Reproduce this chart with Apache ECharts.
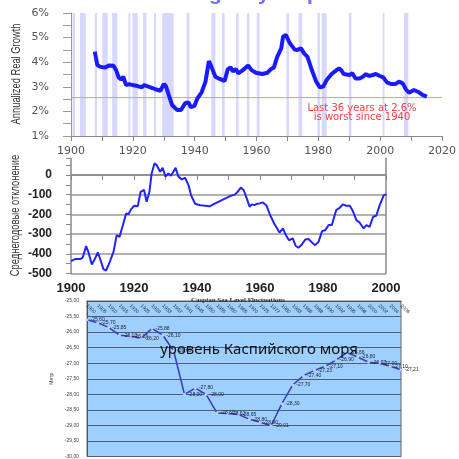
<!DOCTYPE html>
<html>
<head>
<meta charset="utf-8">
<script src="https://cdn.jsdelivr.net/npm/echarts@6/dist/echarts.min.js"></script>
<style>
html, body { margin: 0; padding: 0; background: #fff; }
#chart { width: 459px; height: 459px; }
</style>
</head>
<body>
<div id="chart"></div>
<script>
// --- верхний график: GDP, rolling 36 year
const gdpYears = [1907.7, 1908.5, 1909.3, 1910.9, 1912.4, 1913.7, 1914.6, 1915.4, 1916.2, 1916.9,
  1917.8, 1918.8, 1919.9, 1921.5, 1922.9, 1923.7, 1925.7, 1927.3, 1928.9, 1930.0,
  1930.7, 1931.6, 1932.7, 1934.3, 1935.6, 1936.9, 1938.0, 1938.8, 1939.9, 1940.9,
  1942.2, 1943.5, 1944.6, 1945.4, 1946.7, 1948.1, 1949.7, 1950.7, 1951.6, 1952.4,
  1953.3, 1954.1, 1955.9, 1957.3, 1958.4, 1959.8, 1961.9, 1963.5, 1964.6, 1965.6,
  1966.7, 1968.0, 1968.6, 1969.5, 1970.7, 1972.3, 1973.3, 1974.4, 1975.4, 1976.5,
  1977.9, 1979.3, 1980.5, 1981.6, 1982.7, 1984.3, 1985.9, 1986.7, 1987.4, 1988.2,
  1990.1, 1991.0, 1992.0, 1993.3, 1994.4, 1995.4, 1996.3, 1997.6, 1998.6, 1999.9,
  2001.0, 2002.3, 2003.7, 2004.9, 2006.1, 2007.3, 2008.3, 2009.3, 2010.9, 2012.2,
  2013.7, 2015.1]
const gdpValues = [4.43, 3.89, 3.82, 3.78, 3.87, 3.86, 3.68, 3.38, 3.30, 3.41,
  3.07, 3.11, 3.07, 3.03, 2.98, 3.07, 2.98, 2.90, 2.84, 3.11,
  3.03, 2.67, 2.26, 2.06, 2.06, 2.33, 2.36, 2.17, 2.22, 2.53,
  2.76, 3.21, 4.05, 3.82, 3.41, 3.32, 3.24, 3.71, 3.79, 3.62,
  3.72, 3.55, 3.71, 3.87, 3.68, 3.57, 3.52, 3.57, 3.71, 3.78,
  4.22, 4.56, 5.04, 5.11, 4.79, 4.52, 4.50, 4.56, 4.36, 4.22,
  3.68, 3.21, 2.98, 3.01, 3.28, 3.52, 3.68, 3.75, 3.68, 3.52,
  3.48, 3.55, 3.34, 3.34, 3.41, 3.52, 3.44, 3.48, 3.52, 3.44,
  3.38, 3.17, 3.11, 3.11, 3.21, 3.14, 2.90, 2.76, 2.87, 2.80,
  2.67, 2.60]
// рецессии (начало, конец)
const recessionStart = [1900.5, 1902.9, 1907.7, 1910.1, 1913.3, 1918.6, 1919.9, 1923.3, 1926.8, 1929.5,
  1937.4, 1945.4, 1948.8, 1953.4, 1956.9, 1960.1, 1969.7, 1973.6, 1979.7, 1981.1,
  1989.9, 2000.8, 2007.7]
const recessionEnd = [1901.3, 1904.8, 1908.4, 1911.9, 1915.0, 1919.2, 1921.6, 1924.4, 1927.5, 1933.2,
  1938.3, 1946.7, 1949.7, 1954.2, 1957.7, 1961.0, 1970.5, 1974.8, 1980.5, 1982.7,
  1990.7, 2001.4, 2009.1]
// красная линия 2.6% (от 1900 до 2020)
const refYears = [1900, 2020]
const refValues = [2.56, 2.56]

// --- средний график: среднегодовые отклонения
const devYears = [1900, 1901.3, 1902.9, 1903.7, 1904.8, 1905.5, 1906.6, 1907.4, 1908.5, 1909.2,
  1910.3, 1911.1, 1911.9, 1913.5, 1914.5, 1915.4, 1916.4, 1917.5, 1918.2, 1919.1,
  1920.1, 1921.2, 1922.1, 1923.2, 1924.0, 1924.9, 1925.6, 1926.5, 1927.2, 1928.3,
  1929.1, 1930.0, 1930.9, 1931.7, 1932.5, 1933.2, 1934.1, 1935.2, 1936.2, 1937.3,
  1938.1, 1939.4, 1941.0, 1942.6, 1944.0, 1945.8, 1947.9, 1950.5, 1952.1, 1952.9,
  1953.9, 1954.8, 1955.6, 1956.7, 1957.4, 1958.2, 1959.0, 1959.9, 1960.9, 1962.0,
  1963.2, 1964.5, 1966.2, 1967.3, 1968.1, 1969.2, 1970.4, 1971.3, 1972.2, 1973.3,
  1974.4, 1975.4, 1976.5, 1977.5, 1978.6, 1979.7, 1980.7, 1981.8, 1982.8, 1983.4,
  1984.2, 1985.3, 1986.3, 1987.4, 1988.5, 1989.5, 1990.6, 1991.6, 1992.9, 1993.8,
  1994.8, 1995.9, 1996.9, 1998.0, 1999.3, 2000]
const devValues = [-437, -427, -427, -420, -361, -390, -454, -432, -393, -424,
  -478, -485, -458, -390, -305, -314, -259, -195, -200, -173,
  -156, -158, -85, -76, -136, -85, 8, 59, 51, 17,
  37, -8, 8, -3, 17, 37, -8, -22, -14, -51,
  -102, -146, -153, -156, -159, -144, -127, -107, -98, -85,
  -64, -76, -110, -161, -149, -153, -146, -144, -139, -153,
  -203, -246, -292, -271, -302, -331, -322, -359, -369, -353,
  -327, -325, -342, -356, -339, -285, -280, -254, -254, -263,
  -178, -166, -149, -156, -156, -183, -229, -241, -271, -254,
  -263, -212, -207, -153, -102, -98]
const devExtYears = [2000, 2000.8, 2001.6, 2002.4, 2003.5, 2004.6, 2005.6, 2006.5, 2007.2, 2008.0]
const devExtValues = [-98, -105, -115, -110, -107, -115, -153, -212, -241, -275]

// --- нижний график: уровень Каспийского моря
const caspianYears = ['1900', '1905', '1910', '1915', '1920', '1925', '1929', '1933', '1937', '1941',
  '1945', '1950', '1955', '1960', '1965', '1970', '1975', '1977', '1980', '1983',
  '1986', '1988', '1990', '1992', '1995', '1998', '2000', '2002', '2004', '2006']
const caspianLevels = [-25.60, -25.70, -25.85, -26.10, -26.13, -26.20, -25.88, -26.10, -26.60, -28.00,
  -27.80, -28.00, -28.60, -28.62, -28.65, -28.80, -28.90, -29.01, -28.30, -27.70,
  -27.40, -27.23, -27.10, -26.90, -26.66, -26.80, -26.97, -27.00, -27.10, -27.21]

const comma = v => v.toFixed(2).replace('.', ',')

const chart = echarts.init(document.getElementById('chart'))

// узкий шрифт нет -> сжимаем текст по длине
function axisTitle(text, x, y, size, squeeze) {
  return {
    type: 'text', x: x, y: y, rotation: Math.PI / 2, scaleX: squeeze, silent: true, z: 100,
    style: { text: text, fill: '#333', font: size + 'px "Liberation Sans"',
      align: 'center', verticalAlign: 'middle' }
  }
}

const option = {
  animation: false,
  backgroundColor: '#fff',
  title: [{
    text: 'Caspian Sea Level Fluctuations',
    left: 233, top: 292, textAlign: 'center',
    textStyle: { fontFamily: 'Liberation Serif', fontSize: 7, fontWeight: 'bold', color: '#333' }
  }],
  grid: [
    { left: 71, top: 13, width: 376, height: 123 },
    { left: 71, top: 158.3, width: 315, height: 115.2 },
    { left: 87, top: 301, width: 314, height: 177.5, show: true,
      backgroundColor: '#9dcfff', borderColor: '#666', borderWidth: 1 }
  ],
  xAxis: [
    {
      gridIndex: 0, type: 'value', min: 1900, max: 2020, interval: 10,
      axisLine: { lineStyle: { color: '#888' } },
      axisTick: { length: 5, lineStyle: { color: '#888' } },
      axisLabel: { margin: 10, fontFamily: 'DejaVu Sans', fontSize: 11, color: '#555',
        formatter: v => (v % 20 === 0 ? v : '') },
      splitLine: { show: false }
    },
    {
      gridIndex: 1, type: 'value', min: 1900, max: 2000, interval: 10,
      axisLine: { lineStyle: { color: '#888', width: 1.5 } },
      axisTick: { length: 5, lineStyle: { color: '#888' } },
      axisLabel: { margin: 8, fontFamily: 'Liberation Sans', fontWeight: 'bold', fontSize: 13, color: '#222',
        formatter: v => (v % 20 === 0 ? v : '') },
      splitLine: { show: false }
    },
    {
      gridIndex: 2, type: 'category', data: caspianYears, position: 'top', boundaryGap: false,
      axisLine: { lineStyle: { color: '#555' } },
      axisTick: { show: false },
      axisLabel: { inside: true, rotate: 45, interval: 0, fontSize: 5, color: '#333', margin: 4 }
    }
  ],
  yAxis: [
    {
      gridIndex: 0, type: 'value', min: 1, max: 6, interval: 0.5,
      axisLine: { show: true, lineStyle: { color: '#999' } },
      axisTick: { show: true, length: 8, lineStyle: { color: '#999' } },
      axisLabel: { margin: 22, fontFamily: 'DejaVu Sans', fontSize: 11, color: '#555',
        formatter: v => (Number.isInteger(v) ? v + '%' : '') },
      splitLine: { show: false }
    },
    {
      gridIndex: 1, type: 'value', min: -500, max: 85, interval: 100,
      axisLine: { show: true, lineStyle: { color: '#888', width: 1.5 } },
      axisTick: { show: true, length: 5, lineStyle: { color: '#888' } },
      minorTick: { show: true, splitNumber: 2, length: 5, lineStyle: { color: '#888' } },
      axisLabel: { margin: 19, fontFamily: 'Liberation Sans', fontWeight: 'bold', fontSize: 12, color: '#222',
        showMaxLabel: false, formatter: v => (v % 100 === 0 ? v : '') },
      splitLine: { show: true, showMaxLine: false, lineStyle: { color: '#999', width: 1.5 } }
    },
    {
      gridIndex: 2, type: 'value', min: -30, max: -25, interval: 0.5,
      name: 'Метр', nameLocation: 'middle', nameGap: 20, nameRotate: 90,
      nameTextStyle: { fontSize: 5, color: '#333' },
      axisLine: { show: true, lineStyle: { color: '#555' } },
      axisTick: { show: false },
      axisLabel: { margin: 8, fontSize: 5, color: '#444', formatter: comma },
      splitLine: { show: true, lineStyle: { color: '#4f5f75', width: 1 } }
    },
    {
      gridIndex: 1, type: 'value', min: -500, max: 85, position: 'right',
      axisLine: { show: true, lineStyle: { color: '#888', width: 1.5 } },
      axisTick: { show: false }, axisLabel: { show: false }, splitLine: { show: false }
    }
  ],
  series: [
    {
      name: 'recessions', type: 'line', xAxisIndex: 0, yAxisIndex: 0, z: 1,
      data: [], silent: true,
      markArea: {
        silent: true,
        itemStyle: { color: '#d8d8ff' },
        data: recessionStart.map((s, i) => [{ xAxis: s }, { xAxis: recessionEnd[i] }])
      }
    },
    {
      name: 'ref', type: 'line', xAxisIndex: 0, yAxisIndex: 0, z: 2, silent: true,
      data: refYears.map((y, i) => [y, refValues[i]]),
      showSymbol: false,
      lineStyle: { color: '#ff8a8a', width: 1 }
    },
    {
      name: 'GDP', type: 'line', xAxisIndex: 0, yAxisIndex: 0, z: 3,
      data: gdpYears.map((y, i) => [y, gdpValues[i]]),
      showSymbol: false,
      lineStyle: { color: '#1a1aff', width: 4 }
    },
    {
      name: 'dev', type: 'line', xAxisIndex: 1, yAxisIndex: 1, z: 3,
      data: devYears.map((y, i) => [y, devValues[i]]),
      showSymbol: false,
      lineStyle: { color: '#2323ff', width: 2 }
    },
    {
      name: 'devExt', type: 'line', xAxisIndex: 1, yAxisIndex: 1, z: 3, clip: false,
      data: devExtYears.map((y, i) => [y, devExtValues[i]]),
      showSymbol: false,
      lineStyle: { color: '#4f66ff', width: 2 }
    },
    {
      name: 'caspian', type: 'line', xAxisIndex: 2, yAxisIndex: 2, z: 3,
      data: caspianLevels,
      symbol: 'circle', symbolSize: 3,
      itemStyle: { color: '#c8c8ff' },
      lineStyle: { color: '#3b3bb5', width: 1.5 },
      label: { show: true, position: 'right', distance: 2, fontSize: 5, color: '#223',
        formatter: p => comma(p.value) }
    }
  ],
  graphic: [
    {
      type: 'text', x: 241, y: -6, silent: true, z: 100,
      style: { text: 'GDP: rolling 36-year periods', fill: '#6e6eff',
        font: 'bold 21px "Liberation Sans"', align: 'center', verticalAlign: 'middle' }
    },
    {
      type: 'text', x: 362, y: 113, silent: true, z: 100,
      style: { text: 'Last 36 years at 2.6%\nis worst since 1940', fill: '#ff3b3b',
        font: '10px "DejaVu Sans"', lineHeight: 8.5, align: 'center', verticalAlign: 'middle' }
    },
    {
      type: 'text', x: 259, y: 350, silent: true, z: 100,
      style: { text: 'уровень Каспийского моря', fill: '#111',
        font: '15px "Noto Sans"', align: 'center', verticalAlign: 'middle' }
    },
    axisTitle('Annualized Real Growth', 17, 74, 12, 0.78),
    axisTitle('Среднегодовые отклонение', 15, 215.5, 13, 0.72)
  ]
}

chart.setOption(option)
</script>
</body>
</html>
